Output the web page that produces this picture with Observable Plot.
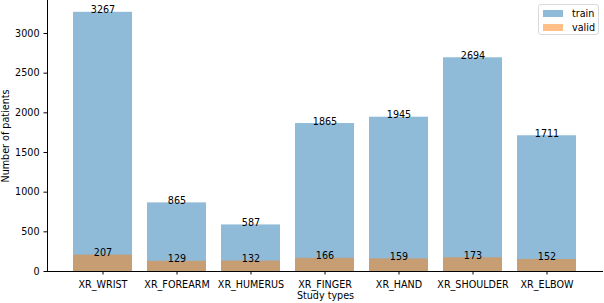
<!DOCTYPE html>
<html><head><meta charset="utf-8">
<script src="https://cdn.jsdelivr.net/npm/d3@7"></script>
<script src="https://cdn.jsdelivr.net/npm/@observablehq/plot@0.6"></script>
<style>
body{margin:0;background:#fff;font-family:"DejaVu Sans",sans-serif;}
#wrap{position:relative;width:604px;height:303px;}
.legend{position:absolute;left:538px;top:4px;width:61px;height:31px;border:1px solid #d9d9d9;border-radius:3px;background:rgba(255,255,255,0.8);font:9.6px "DejaVu Sans",sans-serif;color:#000;box-sizing:border-box;}
.legend .row{position:absolute;left:4px;height:12px;display:flex;align-items:center;}
.legend .sw{width:20px;height:7px;margin-right:9px;}
</style></head>
<body><div id="wrap"></div>
<script>
const categories = ["XR_WRIST","XR_FOREARM","XR_HUMERUS","XR_FINGER","XR_HAND","XR_SHOULDER","XR_ELBOW"];
const train = [3267, 865, 587, 1865, 1945, 2694, 1711];
const valid = [207, 129, 132, 166, 159, 173, 152];
const yTicks = [0, 500, 1000, 1500, 2000, 2500, 3000];
const seriesNames = ["train", "valid"];
const seriesColors = ["#1f77b4", "#ff7f0e"];
const fs = 9.6;

const trainData = categories.map((c, i) => ({cat: c, v: train[i]}));
const validData = categories.map((c, i) => ({cat: c, v: valid[i]}));

const plot = Plot.plot({
  width: 604, height: 303,
  marginLeft: 47, marginRight: 1, marginTop: 0, marginBottom: 32,
  style: {fontFamily: "DejaVu Sans", fontSize: fs + "px", color: "#000", background: "#fff"},
  x: {domain: categories, paddingInner: 0.2, paddingOuter: 0.34, label: null},
  y: {domain: [0, 3416], label: null},
  marks: [
    Plot.barY(trainData, {x: "cat", y: "v", fill: seriesColors[0], fillOpacity: 0.5}),
    Plot.barY(validData, {x: "cat", y: "v", fill: seriesColors[1], fillOpacity: 0.5}),
    Plot.text(trainData, {x: "cat", y: "v", text: d => String(d.v), lineAnchor: "bottom", dy: 1, fill: "#000", fontSize: fs}),
    Plot.text(validData, {x: "cat", y: "v", text: d => String(d.v), lineAnchor: "bottom", dy: 1, fill: "#000", fontSize: fs}),
    Plot.axisX({tickSize: 3.5, tickPadding: 6, label: null, fontSize: fs}),
    Plot.axisY({ticks: yTicks, tickFormat: d => String(d), tickSize: 3.5, tickPadding: 4.5, label: null, fontSize: fs}),
    Plot.ruleY([0], {stroke: "#000", strokeWidth: 1}),
    Plot.frame({anchor: "left", stroke: "#000"}),
    Plot.text(["Study types"], {frameAnchor: "bottom", dy: 27, fill: "#000", fontSize: fs}),
    Plot.text(["Number of patients"], {frameAnchor: "left", textAnchor: "middle", dx: -42, rotate: -90, fill: "#000", fontSize: fs})
  ]
});
document.getElementById("wrap").appendChild(plot);

const lg = document.createElement("div");
lg.className = "legend";
seriesNames.forEach((n, i) => {
  const r = document.createElement("div");
  r.className = "row";
  r.style.top = (2 + i * 14) + "px";
  r.innerHTML = `<span class="sw" style="background:${seriesColors[i]};opacity:0.5"></span><span>${n}</span>`;
  lg.appendChild(r);
});
document.getElementById("wrap").appendChild(lg);
</script></body></html>
